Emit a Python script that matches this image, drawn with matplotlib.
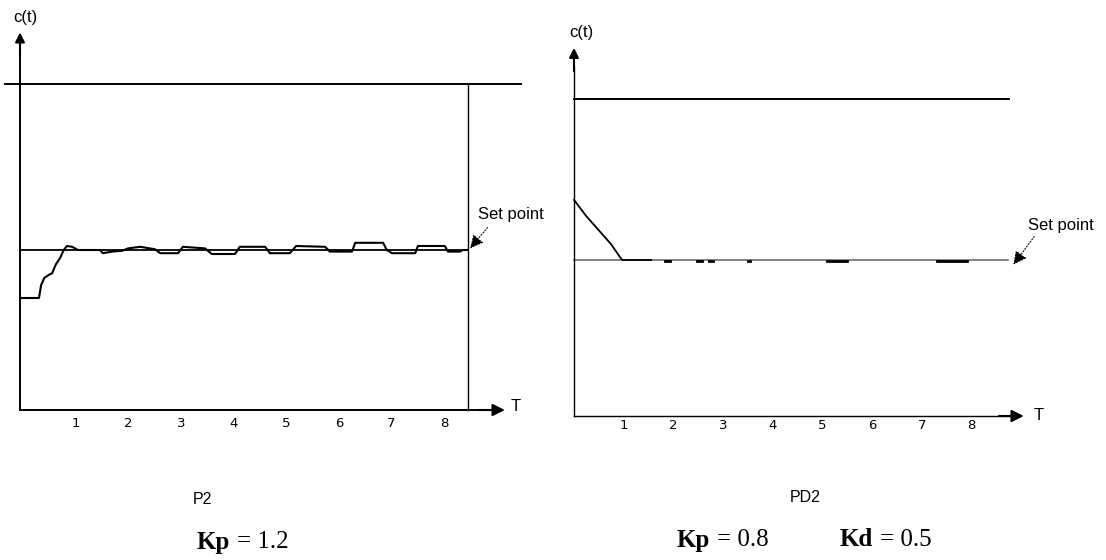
import numpy as np
import matplotlib
matplotlib.use("Agg")
import matplotlib.pyplot as plt

# ---- data ----
tick_vals = [1, 2, 3, 4, 5, 6, 7, 8]
tick_labels = ["1", "2", "3", "4", "5", "6", "7", "8"]

set_point = 1.0
upper_level = 2.04

# P2 controller response, Kp = 1.2
p2_t = [0, 0.36, 0.40, 0.46, 0.55, 0.61, 0.68, 0.76, 0.83, 0.89, 0.99, 1.10,
        1.52, 1.57, 1.75, 1.94, 2.05, 2.28, 2.56, 2.66, 3.00, 3.09, 3.51, 3.64,
        4.08, 4.17, 4.65, 4.70, 4.74, 5.12, 5.24, 5.79, 5.88, 6.30, 6.36, 6.89,
        6.96, 7.06, 7.50, 7.55, 8.06, 8.12, 8.35, 8.40, 8.50]
p2_c = [0.70, 0.70, 0.78, 0.825, 0.845, 0.855, 0.91, 0.95, 1.0, 1.025, 1.02, 1.0,
        1.0, 0.98, 0.99, 0.995, 1.01, 1.02, 1.005, 0.98, 0.98, 1.02, 1.01, 0.975,
        0.975, 1.02, 1.02, 1.0, 0.98, 0.98, 1.025, 1.02, 0.99, 0.99, 1.045, 1.045,
        1.0, 0.98, 0.98, 1.025, 1.025, 0.99, 0.99, 1.0, 1.0]
p2_end = 8.5

# PD2 controller response, Kp = 0.8, Kd = 0.5
pd2_t = [0, 0.25, 0.50, 0.75, 0.90, 0.97, 1.55]
pd2_c = [1.385, 1.28, 1.19, 1.10, 1.03, 1.0, 1.0]
pd2_blips = [(1.83, 1.93), (2.48, 2.58), (2.72, 2.80), (3.5, 3.55), (5.1, 5.5), (7.3, 7.9)]
pd2_end = 8.75

W, H = 1106, 560
fig = plt.figure(figsize=(W / 100, H / 100), dpi=100)


def make_axes(ox, oy, sx, sy, xlim, ylim):
    left = ox + xlim[0] * sx
    right = ox + xlim[1] * sx
    top = oy - ylim[1] * sy
    bottom = oy - ylim[0] * sy
    ax = fig.add_axes([left / W, 1 - bottom / H, (right - left) / W, (bottom - top) / H])
    ax.set_xlim(*xlim)
    ax.set_ylim(*ylim)
    ax.patch.set_alpha(0)
    for s in ["top", "right"]:
        ax.spines[s].set_visible(False)
    ax.spines["left"].set_position(("data", 0))
    ax.spines["bottom"].set_position(("data", 0))
    ax.set_yticks([])
    return ax


def axis_arrows(ax, xend, yend, lw):
    ax.spines["bottom"].set_bounds(0, xend - 0.3)
    ax.spines["left"].set_bounds(0, yend - 0.12)
    ax.spines["bottom"].set_linewidth(lw)
    ax.spines["left"].set_linewidth(lw)
    ax.annotate("", xy=(xend, 0), xytext=(xend - 0.5, 0),
                arrowprops=dict(arrowstyle="-|>", color="k", lw=1.5, mutation_scale=18,
                                shrinkA=0, shrinkB=0))
    ax.annotate("", xy=(0, yend), xytext=(0, yend - 0.15),
                arrowprops=dict(arrowstyle="-|>", color="k", lw=1.5, mutation_scale=14,
                                shrinkA=0, shrinkB=0))


tick_font = dict(family=["Liberation Sans Narrow", "DejaVu Sans"], size=9.5)
sans = ["Liberation Sans", "DejaVu Sans"]
serif = ["Liberation Serif", "DejaVu Serif"]

# ---------------- left chart (P2) ----------------
ax1 = make_axes(20, 410, 52.7, 160, (-0.35, 10.0), (-0.55, 2.5))
axis_arrows(ax1, 9.2, 2.36, 1.4)
ax1.set_xticks([v + 0.05 for v in tick_vals])
ax1.set_xticklabels(tick_labels, fontdict=tick_font)
ax1.tick_params(axis="x", length=0, pad=5)

ax1.plot([-0.28, 9.5], [upper_level, upper_level], color="k", lw=1.4)
ax1.plot([p2_end, p2_end], [0, upper_level], color="k", lw=1.0)
ax1.plot([0, p2_end], [set_point, set_point], color="k", lw=1.3)
ax1.plot(p2_t, p2_c, color="k", lw=1.5)

ax1.annotate("", xy=(8.54, 1.01), xytext=(8.87, 1.14),
             arrowprops=dict(arrowstyle="-|>", color="k", lw=0.8, ls=":",
                             mutation_scale=20, shrinkA=0, shrinkB=0))
ax1.text(9.32, 1.22, "Set point", ha="center", va="center", family=sans, size=12)
ax1.text(0.1, 2.45, "c(t)", ha="center", va="center", family=sans, size=12)
ax1.text(9.4, 0.02, "T", ha="center", va="center", family=sans, size=12)

# ---------------- right chart (PD2) ----------------
ax2 = make_axes(574, 416, 49.7, 156, (-0.35, 10.6), (-0.5, 2.6))
axis_arrows(ax2, 9.05, 2.36, 1.0)
ax2.set_xticks(tick_vals)
ax2.set_xticklabels(tick_labels, fontdict=tick_font)
ax2.tick_params(axis="x", length=0, pad=2)

ax2.plot([0, pd2_end], [2.03, 2.03], color="k", lw=1.4)
ax2.plot([0, 8.73], [set_point, set_point], color="#6e6e6e", lw=1.2)
ax2.plot(pd2_t, pd2_c, color="k", lw=1.3)
for a, b in pd2_blips:
    ax2.plot([a, b], [set_point - 0.008, set_point - 0.008], color="k", lw=2.0)

ax2.annotate("", xy=(8.84, 0.97), xytext=(9.26, 1.15),
             arrowprops=dict(arrowstyle="-|>", color="k", lw=0.8, ls=":",
                             mutation_scale=20, shrinkA=0, shrinkB=0))
ax2.text(9.8, 1.22, "Set point", ha="center", va="center", family=sans, size=12)
ax2.text(0.14, 2.46, "c(t)", ha="center", va="center", family=sans, size=12)
ax2.text(9.35, 0.0, "T", ha="center", va="center", family=sans, size=12)


# ---------------- captions ----------------
def ftext(x, y, s, **kw):
    fig.text(x / W, 1 - y / H, s, va="center", ha="left", **kw)


ftext(193, 500, "P2", family=sans, size=11.5)
ftext(197, 542, "Kp", family=serif, size=18, weight="bold")
ftext(237, 542, "= 1.2", family=serif, size=18)
ftext(790, 497, "PD2", family=sans, size=11.5)
ftext(677, 540, "Kp", family=serif, size=18, weight="bold")
ftext(717, 540, "= 0.8", family=serif, size=18)
ftext(840, 540, "Kd", family=serif, size=18, weight="bold")
ftext(880, 540, "= 0.5", family=serif, size=18)

fig.savefig("out.png", dpi=100)
